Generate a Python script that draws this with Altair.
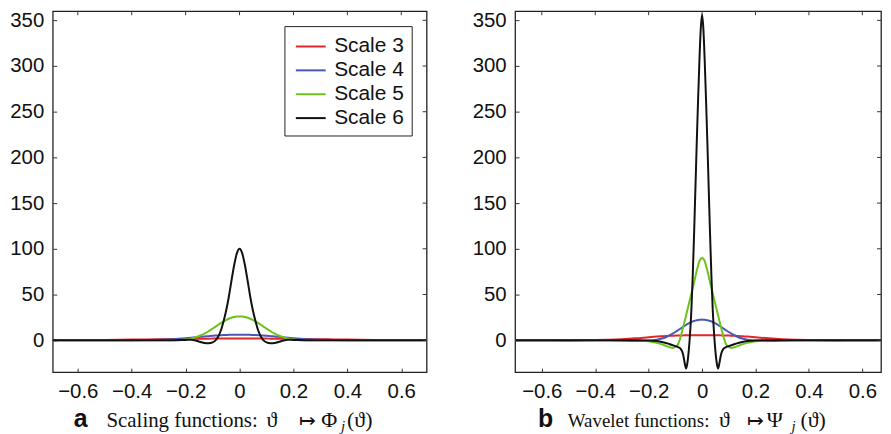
import altair as alt
import pandas as pd

SERIES = ["Scale 3", "Scale 4", "Scale 5", "Scale 6"]
COLORS = ["#e2262a", "#4a57b3", "#6cc31c", "#111111"]
X_TICKS = [-0.6, -0.4, -0.2, 0, 0.2, 0.4, 0.6]
Y_TICKS = [0, 50, 100, 150, 200, 250, 300, 350]

# ---- panel a: scaling functions (symmetric, right half) ----
xa_half = [0, 0.01, 0.02, 0.03, 0.04, 0.05, 0.06, 0.07, 0.08, 0.09, 0.1, 0.115,
           0.13, 0.145, 0.16, 0.18, 0.2, 0.25, 0.3, 0.35, 0.4, 0.5, 0.6, 0.7]
a_s3 = [1.8, 1.8, 1.8, 1.8, 1.79, 1.78, 1.77, 1.76, 1.75, 1.73, 1.7, 1.66,
        1.62, 1.57, 1.52, 1.45, 1.38, 1.2, 1.0, 0.8, 0.6, 0.3, 0.1, 0.03]
a_s4 = [6.0, 6.0, 5.95, 5.9, 5.8, 5.7, 5.55, 5.4, 5.2, 5.0, 4.8, 4.4,
        4.0, 3.6, 3.2, 2.6, 2.1, 1.1, 0.5, 0.15, 0, 0, 0, 0]
a_s5 = [26, 25.8, 25.3, 24.5, 23.4, 22, 20.4, 18.6, 16.6, 14.6, 12.6, 9.8,
        7.2, 5.1, 3.4, 1.8, 0.8, -0.2, -0.2, -0.1, 0, 0, 0, 0]
a_s6 = [100, 95, 82, 65, 47, 32, 20, 10, 3.5, -0.5, -2.5, -3.5,
        -3.2, -2, -0.6, 0.4, 0.3, 0, 0, 0, 0, 0, 0, 0]

# ---- panel b: wavelet functions ----
xb_half = [0, 0.005, 0.01, 0.015, 0.02, 0.025, 0.03, 0.035, 0.04, 0.045, 0.05,
           0.055, 0.06, 0.065, 0.07, 0.075, 0.08, 0.09, 0.1, 0.11, 0.12, 0.13,
           0.15, 0.17, 0.2, 0.25, 0.3, 0.35, 0.4, 0.5, 0.6, 0.7]
b_s3 = [5.5, 5.5, 5.5, 5.5, 5.48, 5.47, 5.45, 5.43, 5.4, 5.38, 5.35,
        5.32, 5.3, 5.27, 5.24, 5.2, 5.17, 5.1, 5.0, 4.9, 4.8, 4.65,
        4.3, 3.9, 3.2, 2.0, 1.1, 0.5, 0.1, -0.25, -0.15, 0]
b_s4 = [22.5, 22.4, 22.3, 22.1, 21.8, 21.4, 21.0, 20.5, 19.8, 19.1, 18.3,
        17.5, 16.6, 15.7, 14.8, 13.8, 12.8, 10.8, 8.9, 7.1, 5.4, 4.0,
        1.8, 0.5, -0.6, -0.8, -0.4, -0.1, 0, 0, 0, 0]
b_s5 = [90, 89, 86.5, 81.5, 76, 69.5, 63, 57, 51, 45, 39,
        33, 27, 21, 15, 9.5, 4, -4.5, -7.5, -8.5, -7.8, -6.8,
        -4.6, -3, -1.3, -0.3, 0, 0, 0, 0, 0, 0]
b_s6 = [356, 340, 305, 262, 215, 165, 115, 70, 33, 7, -12,
        -25, -31, -25, -17, -12, -9.5, -7.5, -6.5, -5.5, -4.5, -3.5,
        -2, -1, -0.3, 0, 0, 0, 0, 0, 0, 0]


def build(x_half, series_vals):
    rows = []
    xs = [-v for v in reversed(x_half[1:])] + list(x_half)
    for name, vals in zip(SERIES, series_vals):
        ys = list(reversed(vals[1:])) + list(vals)
        for xv, yv in zip(xs, ys):
            rows.append({"x": xv, "y": yv, "series": name})
    return pd.DataFrame(rows)


df_a = build(xa_half, [a_s3, a_s4, a_s5, a_s6])
df_b = build(xb_half, [b_s3, b_s4, b_s5, b_s6])

H = 363
TICK_LEN = 4
AX_FONT = "Liberation Sans"
AX_SIZE = 20.5


def text_piece(s, x, y, font, size, weight="normal", style="normal"):
    return alt.Chart(pd.DataFrame({"t": [s]})).mark_text(
        font=font, fontSize=size, fontWeight=weight, fontStyle=style,
        align="left", baseline="alphabetic", color="#111"
    ).encode(text="t:N", x=alt.value(x), y=alt.value(y))


def panel(df, xdom, width, pieces):
    xs = alt.Scale(domain=xdom, nice=False, zero=False)
    ys = alt.Scale(domain=[-35, 360], nice=False, zero=False)
    lines = alt.Chart(df).mark_line(strokeWidth=2, interpolate="monotone", clip=True).encode(
        x=alt.X("x:Q", scale=xs, axis=alt.Axis(orient="bottom", values=X_TICKS, format="~f",
                                               title=None, offset=-TICK_LEN, tickSize=TICK_LEN,
                                               labelPadding=10, domain=False, grid=False,
                                               labelFont=AX_FONT, labelFontSize=AX_SIZE,
                                               labelColor="#111", tickColor="#333")),
        y=alt.Y("y:Q", scale=ys, axis=alt.Axis(orient="left", values=Y_TICKS, title=None,
                                               offset=-TICK_LEN, tickSize=TICK_LEN,
                                               labelPadding=9, domain=False, grid=False,
                                               labelFont=AX_FONT, labelFontSize=AX_SIZE,
                                               labelColor="#111", tickColor="#333")),
        color=alt.Color("series:N", scale=alt.Scale(domain=SERIES, range=COLORS),
                        legend=alt.Legend(orient="none", legendX=233, legendY=15, title=None,
                                          padding=7, strokeColor="#222", fillColor="white",
                                          symbolType="M-0.72,0H1.68", symbolSize=625,
                                          symbolStrokeWidth=2, labelFontSize=21,
                                          labelFont=AX_FONT, labelOffset=16,
                                          rowPadding=0, labelColor="#111")),
    )
    top_ticks = alt.Chart(pd.DataFrame({"x": X_TICKS})).mark_rule(color="#333", strokeWidth=1).encode(
        x=alt.X("x:Q", scale=xs, axis=None), y=alt.value(0), y2=alt.value(TICK_LEN))
    right_ticks = alt.Chart(pd.DataFrame({"y": Y_TICKS})).mark_rule(color="#333", strokeWidth=1).encode(
        y=alt.Y("y:Q", scale=ys, axis=None), x=alt.value(width - TICK_LEN), x2=alt.value(width))
    texts = [text_piece(*p) for p in pieces]
    return alt.layer(lines, top_ticks, right_ticks, *texts).resolve_axis(
        x="independent", y="independent").properties(width=width, height=H)


SERIF = "Liberation Serif"
BASE = 418
left_pieces = [
    ("a", 21, BASE, "Liberation Sans", 25, "bold"),
    ("Scaling functions:", 54, BASE, SERIF, 21),
    ("ϑ", 215, BASE, SERIF, 22),
    ("↦", 248, BASE, SERIF, 20),
    ("Φ", 270, BASE, SERIF, 22),
    ("j", 290, BASE + 4, SERIF, 15, "normal", "italic"),
    ("(ϑ)", 296, BASE, SERIF, 22),
]
right_pieces = [
    ("b", 23, BASE, "Liberation Sans", 25, "bold"),
    ("Wavelet functions:", 53, BASE, SERIF, 19),
    ("ϑ", 205, BASE, SERIF, 22),
    ("↦", 233, BASE, SERIF, 20),
    ("Ψ", 253, BASE, SERIF, 22),
    ("j", 278, BASE + 4, SERIF, 15, "normal", "italic"),
    ("(ϑ)", 287, BASE, SERIF, 22),
]

left = panel(df_a, [-0.693, 0.694], 376, left_pieces)
right = panel(df_b, [-0.7, 0.670], 368, right_pieces)

chart = alt.hconcat(left, right, spacing=43).properties(
    padding={"left": 1, "top": 0, "right": 0, "bottom": 0}
).configure_view(stroke="#222", strokeWidth=1.3)

chart.save("out.html", embed_options={"renderer": "svg", "actions": False})
